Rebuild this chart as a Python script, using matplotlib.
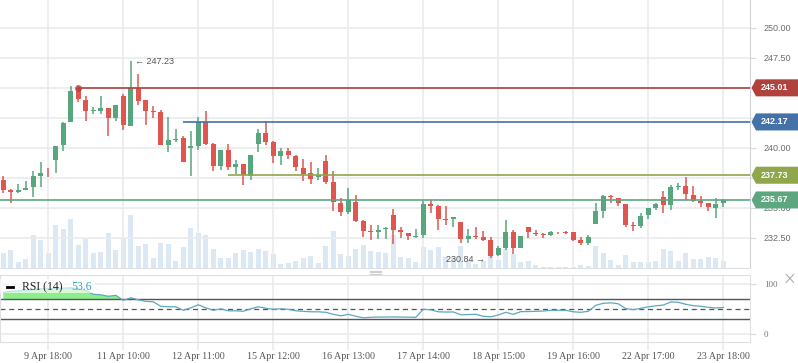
import numpy as np
import matplotlib.pyplot as plt
from matplotlib.patches import Polygon, Rectangle
from matplotlib.lines import Line2D
import matplotlib.transforms as mtransforms

# OHLC per candle
opens = [237.36, 236.47, 236.31, 236.53, 236.72, 237.64, 238.03, 238.97, 240.22, 242.14,
         245.01, 244.03, 243.06, 243.06, 243.36, 242.47, 244.36, 241.86, 245.00, 244.03,
         243.03, 243.03, 240.22, 240.67, 240.86, 239.97, 240.14, 242.14, 240.36, 238.47,
         239.86, 238.39, 238.70, 237.70, 240.36, 241.28, 240.53, 239.36, 239.78, 239.36,
         238.36, 237.95, 237.56, 238.95, 237.20, 235.45, 234.64, 235.53, 233.89, 233.06,
         232.97, 233.22, 234.45, 233.14, 232.95, 232.61, 232.72, 235.36, 235.14, 234.06,
         234.06, 233.81, 232.39, 232.70, 232.61, 232.36, 231.11, 231.70, 233.03, 231.64,
         233.45, 232.89, 232.86, 232.72, 233.03, 232.97, 232.97, 232.31, 232.06, 233.64,
         234.72, 235.97, 235.84, 235.36, 233.56, 233.47, 234.39, 235.03, 235.95, 235.22,
         236.72, 236.86, 236.11, 235.56, 235.45, 234.97, 235.39]
highs = [237.70, 236.59, 237.03, 237.28, 238.11, 238.86, 238.34, 240.20, 242.17, 245.20,
         245.20, 244.36, 243.42, 244.36, 243.36, 243.61, 244.53, 247.23, 246.20, 244.03,
         243.53, 243.20, 242.56, 241.61, 241.03, 241.45, 242.61, 243.11, 240.42, 239.86,
         240.36, 239.03, 238.70, 239.45, 241.61, 242.28, 240.61, 240.03, 240.03, 239.45,
         239.11, 238.86, 238.36, 239.45, 238.11, 235.86, 236.70, 236.11, 233.97, 233.61,
         233.61, 233.39, 234.95, 233.39, 232.95, 233.22, 235.56, 235.64, 235.22, 235.14,
         234.28, 233.81, 233.22, 233.39, 233.11, 232.56, 231.86, 234.03, 233.20, 232.70,
         233.45, 233.20, 232.95, 233.11, 233.03, 233.11, 233.03, 232.61, 232.78, 235.39,
         236.06, 236.06, 235.84, 235.36, 233.81, 234.61, 235.03, 235.45, 236.45, 236.95,
         237.11, 237.55, 236.86, 236.03, 235.45, 235.86, 235.78]
lows = [236.25, 235.39, 236.22, 236.53, 235.89, 236.72, 237.56, 237.89, 239.72, 242.14,
        243.81, 242.22, 242.84, 242.84, 240.97, 242.22, 241.47, 241.81, 243.56, 241.95,
        242.47, 240.22, 239.70, 240.53, 238.81, 237.64, 239.81, 240.22, 238.06, 238.14,
        238.14, 237.81, 236.95, 237.36, 239.70, 240.28, 238.78, 238.61, 239.11, 238.11,
        237.28, 237.03, 237.36, 237.03, 234.72, 234.31, 234.47, 233.81, 232.56, 232.31,
        232.39, 232.39, 231.97, 232.47, 232.31, 232.53, 232.53, 234.56, 233.14, 233.56,
        233.39, 232.06, 232.06, 232.39, 232.22, 230.84, 231.03, 231.53, 231.14, 231.64,
        232.47, 232.70, 232.47, 232.64, 232.81, 232.86, 232.22, 231.89, 231.89, 233.64,
        234.14, 235.39, 235.14, 233.39, 233.06, 233.31, 234.06, 234.81, 234.56, 234.81,
        236.47, 235.70, 235.47, 235.06, 234.72, 234.14, 235.06]
closes = [236.47, 236.34, 236.53, 236.70, 237.70, 237.95, 237.97, 240.20, 242.11, 244.78,
          244.06, 243.06, 243.11, 243.36, 242.47, 243.61, 241.89, 245.00, 243.89, 243.06,
          242.97, 240.22, 240.70, 240.75, 238.81, 240.14, 242.14, 240.36, 238.47, 239.86,
          238.39, 238.70, 237.78, 239.45, 241.28, 240.53, 239.36, 239.78, 239.45, 238.45,
          237.86, 237.45, 237.78, 237.20, 235.47, 234.64, 235.70, 233.89, 233.06, 232.97,
          233.14, 233.31, 233.14, 232.97, 232.64, 232.70, 235.36, 235.14, 234.06, 233.97,
          234.28, 232.39, 232.70, 232.61, 232.36, 231.03, 231.70, 233.03, 231.64, 232.70,
          232.97, 232.81, 232.72, 233.03, 232.97, 232.92, 232.31, 232.06, 232.56, 234.72,
          235.97, 235.89, 235.39, 233.56, 233.47, 234.36, 235.03, 235.36, 235.22, 236.78,
          236.86, 236.14, 235.56, 235.39, 235.06, 235.36, 235.67]
volumes = [46, 55, 19, 28, 100, 85, 46, 130, 118, 148, 70, 88, 46, 49, 106, 55, 88, 160, 67, 73,
           31, 76, 73, 22, 64, 121, 106, 100, 58, 31, 31, 46, 55, 49, 58, 52, 43, 13, 16, 22,
           31, 37, 16, 67, 112, 43, 37, 58, 70, 52, 49, 46, 100, 34, 31, 19, 64, 55, 64, 34,
           31, 67, 25, 13, 20, 62, 25, 58, 43, 19, 22, 10, 4, 2, 2, 4, 4, 10, 7, 67,
           46, 25, 10, 40, 19, 19, 19, 22, 58, 52, 22, 46, 28, 28, 34, 31, 22]
rsi = [84, 86, 87, 88, 90, 91, 91, 92, 92, 93, 91, 88, 80, 79, 76, 78, 68, 73, 69, 66,
       65, 56, 55, 55, 48, 53, 59, 53, 48, 51, 47, 47, 46, 51, 55, 52, 50, 51, 50, 47,
       46, 45, 45, 44, 40, 37, 40, 36, 33, 34, 34.5, 34.5, 34.7, 34.5, 34.3, 34, 50, 49, 45, 44.5,
       44.7, 39, 39.5, 40, 36, 35, 38.7, 44, 40, 45.3, 45.5, 46, 46.5, 48, 48, 48, 45, 44, 46, 58,
       62, 63, 61, 51.3, 49.3, 52, 55, 57, 58.5, 64.7, 64, 60, 57.3, 56, 54, 52.5, 53.6]

tick_pos = [6, 16, 26, 36, 46, 56, 66, 76, 86, 96]
tick_labels = ['9 Apr 18:00', '11 Apr 10:00', '12 Apr 11:00', '15 Apr 12:00', '16 Apr 13:00',
               '17 Apr 14:00', '18 Apr 15:00', '19 Apr 16:00', '22 Apr 17:00', '23 Apr 18:00']
price_ticks = [232.5, 235.0, 237.5, 240.0, 242.5, 245.0, 247.5, 250.0]
# labels hidden behind the price tags in the original
price_labels = ['232.50', '235.00', '', '240.00', '', '', '247.50', '250.00']

levels = [245.01, 242.17, 237.73, 235.67]
level_start = [10, 24, 30, -1]
level_colors = ['#b0413d', '#4471a8', '#8fa64b', '#5ca77f']

UP = '#58a67d'
DOWN = '#e0564f'
GRID = '#e9ebee'

x = np.arange(len(opens))
o = np.array(opens); h = np.array(highs); l = np.array(lows); c = np.array(closes)
up = c >= o
cols = np.where(up, UP, DOWN)

fig = plt.figure(figsize=(7.98, 3.63), dpi=100)
W, H = 798.0, 363.0
ax = fig.add_axes([0, 1 - 268 / H, 750 / W, 268 / H])
axv = ax.twinx()
axr = fig.add_axes([0, 1 - 342 / H, 750 / W, 67 / H])

xmin, xmax = -0.44, 99.56

# volume behind
axv.bar(x, volumes, width=0.67, color='#dce8f3', zorder=1)
axv.set_ylim(0, 804)
axv.set_xlim(xmin, xmax)
axv.set_axis_off()
ax.set_zorder(axv.get_zorder() + 1)
ax.patch.set_visible(False)

# grid
for p in price_ticks:
    ax.axhline(p, color=GRID, lw=1.2, zorder=0)
for t in tick_pos:
    ax.axvline(t, color=GRID, lw=1.2, zorder=0)

# candles
ax.vlines(x, l, h, colors=cols, lw=1.1, zorder=3)
body_lo = np.minimum(o, c)
body_h = np.maximum(np.abs(c - o), 0.07)
ax.bar(x, body_h, bottom=body_lo, width=0.67, color=cols, zorder=4, linewidth=0)

# level lines
for lv, st, col in zip(levels, level_start, level_colors):
    ax.hlines(lv, st if st >= 0 else xmin, xmax, colors=col, lw=1.2, zorder=5)
ax.plot([level_start[0]], [levels[0]], 'o', color='#b0413d', ms=5, alpha=0.75, mec='none', zorder=6)

ax.set_xlim(xmin, xmax)
ax.set_ylim(230.0, 252.33)
ax.yaxis.tick_right()
ax.set_yticks(price_ticks)
ax.set_yticklabels(price_labels)
ax.tick_params(axis='y', length=4, color='#d8d8d8', labelsize=6.5, labelcolor='#6b6b6b', pad=6)
for lab in ax.get_yticklabels():
    lab.set_family('Liberation Sans')
ax.set_xticks([])
for s in ['left', 'top']:
    ax.spines[s].set_visible(False)
ax.spines['right'].set_color('#cfd3d8')
ax.spines['bottom'].set_color('#dcdfe3')

# annotations for extremes
i_hi = int(np.argmax(h))
i_lo = int(np.argmin(l))
ax.annotate('\u2190 %.2f' % h[i_hi], (i_hi, h[i_hi]), xytext=(3, 0), textcoords='offset points',
            ha='left', va='center', fontsize=6.5, color='#555555',
            family=['Liberation Sans', 'DejaVu Sans'], zorder=7)
ax.annotate('%.2f \u2192' % l[i_lo], (i_lo, l[i_lo]), xytext=(-4, -1), textcoords='offset points',
            ha='right', va='center', fontsize=6.5, color='#555555',
            family=['Liberation Sans', 'DejaVu Sans'], zorder=7)

# price tags on right
trans = mtransforms.blended_transform_factory(fig.transFigure, ax.transData)
hh = 0.71
for lv, col in zip(levels, level_colors):
    poly = Polygon([(751.5 / W, lv), (756 / W, lv + hh), (1.0, lv + hh), (1.0, lv - hh), (756 / W, lv - hh)],
                   closed=True, transform=trans, facecolor=col, edgecolor='none', clip_on=False, zorder=10)
    ax.add_patch(poly)
    ax.text(761 / W, lv, '%.2f' % lv, transform=trans, ha='left', va='center', fontsize=6.5,
            color='white', fontweight='bold', family='Liberation Sans', clip_on=False, zorder=11)

# RSI panel
r = np.array(rsi)
axr.set_xlim(xmin, xmax)
axr.set_ylim(-15.4, 118.6)
for t in tick_pos:
    axr.axvline(t, color=GRID, lw=1.2, zorder=0)
axr.axhline(100, color=GRID, lw=1.2, zorder=0)
axr.axhline(0, color=GRID, lw=1.2, zorder=0)
axr.fill_between(x, 70, r, where=r > 70, interpolate=True, color='#8eee8e', lw=0, zorder=1)
axr.plot(x, r, color='#5aa9bf', lw=0.9, zorder=3)
axr.axhline(70, color='#555555', lw=1.0, zorder=2)
axr.axhline(30, color='#555555', lw=1.0, zorder=2)
axr.axhline(50, color='#555555', lw=0.9, ls=(0, (4, 3)), zorder=2)
axr.add_patch(Rectangle((0, 82), 95 / 750, 28, transform=mtransforms.blended_transform_factory(axr.transAxes, axr.transData),
                        facecolor='white', alpha=0.65, edgecolor='none', zorder=4))
axr.plot([6.7 / 750, 13.3 / 750], [0.82, 0.82], transform=axr.transAxes, color='black', lw=2, zorder=5)
axr.text(22 / 750, 0.82, 'RSI (14)', transform=axr.transAxes, ha='left', va='center', fontsize=8.5,
         family='Liberation Serif', color='#222222', zorder=5)
axr.text(71 / 750, 0.82, '%.1f' % r[-1], transform=axr.transAxes, ha='left', va='center', fontsize=8.5,
         family='Liberation Serif', color='#3f9fb5', zorder=5)

axr.yaxis.tick_right()
axr.set_yticks([0, 100])
axr.set_yticklabels(['0', '100'])
axr.tick_params(axis='y', length=4, color='#d8d8d8', labelsize=6.5, labelcolor='#777777', pad=6)
axr.set_xticks(tick_pos)
axr.set_xticklabels(tick_labels)
axr.tick_params(axis='x', length=6, color=GRID, width=1.2, labelsize=7.2, labelcolor='#555555', pad=1.5)
for lab in axr.get_xticklabels() + axr.get_yticklabels():
    lab.set_family('Liberation Serif')
for s in axr.spines.values():
    s.set_color('#dcdfe3')

# small handle and close mark
for yy in [270.5, 272, 273.5]:
    fig.add_artist(Line2D([370 / W, 381 / W], [1 - yy / H, 1 - yy / H], color='#cfcfcf', lw=0.8))
fig.text(789 / W, 1 - 279 / H, '\u00d7', ha='center', va='center', fontsize=12, color='#9a9a9a',
         fontweight='light')

fig.savefig('out.png', dpi=100)
